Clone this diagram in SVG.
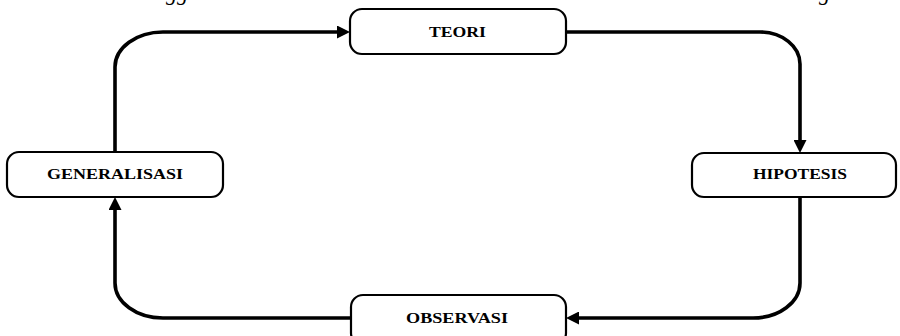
<svg xmlns="http://www.w3.org/2000/svg" width="900" height="336" viewBox="0 0 900 336">
  <style>
    .box { fill: #ffffff; stroke: #000000; stroke-width: 2.2; }
    .label { font-family: "Liberation Serif", "Times New Roman", serif; font-weight: bold; font-size: 15px; fill: #000000; }
    .link { fill: none; stroke: #000000; stroke-width: 3.6; }
    .above { font-family: "Liberation Serif", "Times New Roman", serif; font-style: italic; font-size: 22px; fill: #000000; }
  </style>
  <defs>
    <marker id="arrow" viewBox="0 0 13 13" markerWidth="13" markerHeight="13" markerUnits="userSpaceOnUse" refX="4" refY="6.5" orient="auto">
      <path d="M0,0 L13,6.5 L0,13 z" fill="#000000"/>
    </marker>
  </defs>

  <!-- tail of the preceding text line, clipped by the top edge -->
  <text class="above" x="166" y="0">gg</text>
  <text class="above" x="819" y="0">g</text>

  <g id="connectors">
    <!-- generalisasi up to teori -->
    <path class="link" d="M115,152 V67 A48,35 0 0 1 163,32 H341" marker-end="url(#arrow)"/>
    <!-- teori down to hipotesis -->
    <path class="link" d="M566,32 H760 A40,32 0 0 1 800,64 V144" marker-end="url(#arrow)"/>
    <!-- hipotesis down to observasi -->
    <path class="link" d="M800,197 V283 A47,35 0 0 1 753,318 H575" marker-end="url(#arrow)"/>
    <!-- observasi back up to generalisasi -->
    <path class="link" d="M351,318 H163 A48,35 0 0 1 115,283 V206" marker-end="url(#arrow)"/>
  </g>

  <g id="teori">
    <rect class="box" x="350" y="9" width="216" height="45" rx="12" ry="12"/>
    <text class="label" x="429" y="37" textLength="57" lengthAdjust="spacingAndGlyphs">TEORI</text>
  </g>

  <g id="generalisasi">
    <rect class="box" x="7" y="152" width="216" height="45" rx="12" ry="12"/>
    <text class="label" x="47" y="179" textLength="136" lengthAdjust="spacingAndGlyphs">GENERALISASI</text>
  </g>

  <g id="hipotesis">
    <rect class="box" x="692" y="153" width="204" height="44" rx="12" ry="12"/>
    <text class="label" x="753" y="179" textLength="94" lengthAdjust="spacingAndGlyphs">HIPOTESIS</text>
  </g>

  <g id="observasi">
    <rect class="box" x="351" y="295" width="215" height="50" rx="12" ry="12"/>
    <text class="label" x="406" y="323" textLength="102" lengthAdjust="spacingAndGlyphs">OBSERVASI</text>
  </g>
</svg>
